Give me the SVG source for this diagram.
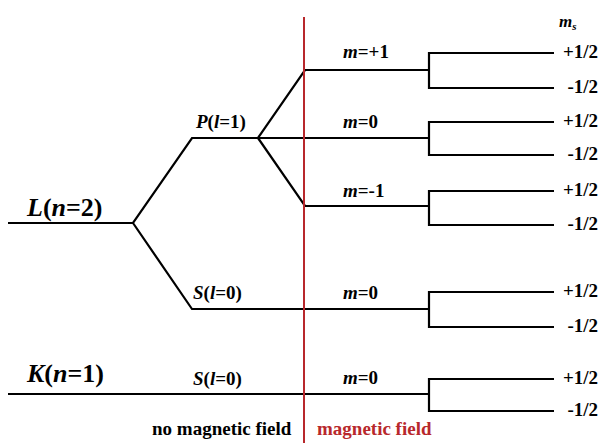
<svg xmlns="http://www.w3.org/2000/svg" width="599" height="443" viewBox="0 0 599 443" font-family="'Liberation Serif', 'Times New Roman', serif">
<style>
.ln{stroke:#000;stroke-width:2.2;fill:none;stroke-linejoin:miter}
text{font-family:'Liberation Serif','Times New Roman',serif;font-weight:bold;fill:#000}
.big{font-size:26px}
.md{font-size:19px}
.sp{font-size:19px;text-anchor:end}
.i{font-style:italic}
.red{fill:#b8282c}
</style>
<rect width="599" height="443" fill="#fff"/>
<g id="connectors">
<path class="ln" d="M8,223 H133 L192,138 H258 L305,70 H429 M258,138 H429 M258,138 L305,206 H429 M133,223 L192,309 H429 M8,394 H429"/>
<path class="ln" d="M554,53 H429 V88 H554 M554,122 H429 V155 H554 M554,191 H429 V225 H554 M554,292 H429 V327 H554 M554,379 H429 V411 H554"/>
<line x1="304" y1="17" x2="304" y2="443" stroke="#b8282c" stroke-width="2"/>
</g>
<g id="L"><text class="big" x="27" y="216"><tspan class="i">L</tspan>(<tspan class="i">n</tspan>=2)</text></g>
<g id="K"><text class="big" x="27" y="382"><tspan class="i">K</tspan>(<tspan class="i">n</tspan>=1)</text></g>
<g id="P"><text class="md" x="196" y="128"><tspan class="i">P</tspan>(<tspan class="i">l</tspan>=1)</text></g>
<g id="S2"><text class="md" x="193" y="299"><tspan class="i">S</tspan>(<tspan class="i">l</tspan>=0)</text></g>
<g id="S1"><text class="md" x="193" y="385"><tspan class="i">S</tspan>(<tspan class="i">l</tspan>=0)</text></g>
<g id="mp1"><text class="md" x="343" y="58"><tspan class="i">m</tspan>=+1</text></g>
<g id="m0"><text class="md" x="343" y="128"><tspan class="i">m</tspan>=0</text></g>
<g id="mm1"><text class="md" x="343" y="197"><tspan class="i">m</tspan>=-1</text></g>
<g id="mS"><text class="md" x="343" y="299"><tspan class="i">m</tspan>=0</text></g>
<g id="mK"><text class="md" x="343" y="384"><tspan class="i">m</tspan>=0</text></g>
<g id="ms"><text class="i" font-size="17" x="559" y="27">m<tspan font-size="11" dy="3">s</tspan></text></g>
<g id="spins">
<text class="sp" x="598" y="58">+1/2</text>
<text class="sp" x="598" y="93">-1/2</text>
<text class="sp" x="598" y="127">+1/2</text>
<text class="sp" x="598" y="160">-1/2</text>
<text class="sp" x="598" y="196">+1/2</text>
<text class="sp" x="598" y="230">-1/2</text>
<text class="sp" x="598" y="297">+1/2</text>
<text class="sp" x="598" y="332">-1/2</text>
<text class="sp" x="598" y="384">+1/2</text>
<text class="sp" x="598" y="416">-1/2</text>
</g>
<g id="fields">
<text class="md" x="152" y="435">no magnetic field</text>
<text class="md red" x="317" y="435">magnetic field</text>
</g>
</svg>
